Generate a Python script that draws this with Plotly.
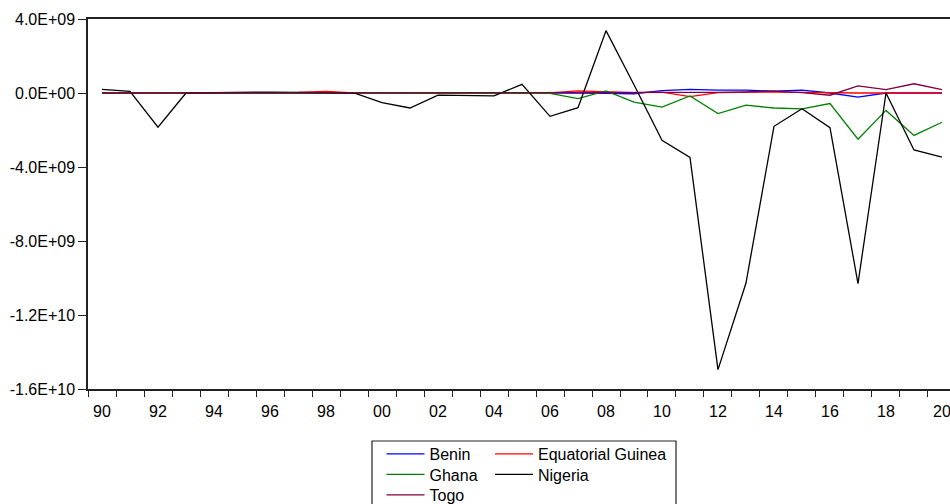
import plotly.graph_objects as go

years = list(range(1990, 2021))

benin = [0.00, 0.00, 0.00, 0.01, 0.02, 0.03, 0.03, 0.03, 0.02, 0.01,
         0.00, 0.00, 0.00, 0.00, 0.00, 0.00, 0.00, 0.00, -0.02, -0.04,
         0.13, 0.20, 0.15, 0.15, 0.10, 0.16, 0.00, -0.22, 0.00, 0.00, 0.00]
eq_guinea = [0.00, 0.00, 0.00, 0.00, 0.01, 0.01, 0.02, 0.03, 0.09, 0.01,
             0.00, 0.00, 0.00, 0.00, 0.00, 0.00, 0.00, 0.11, 0.05, 0.02,
             0.05, -0.20, 0.02, 0.05, 0.05, 0.03, 0.00, 0.00, 0.00, 0.00, 0.00]
ghana = [0.00, 0.00, 0.00, 0.00, 0.01, 0.01, 0.01, 0.01, 0.00, 0.00,
         0.00, 0.00, 0.00, 0.00, 0.00, 0.00, -0.02, -0.30, 0.11, -0.49,
         -0.76, -0.16, -1.11, -0.66, -0.81, -0.86, -0.57, -2.50, -0.94, -2.29, -1.58]
nigeria = [0.20, 0.09, -1.85, 0.00, 0.02, 0.04, 0.05, 0.03, 0.00, 0.00,
           -0.52, -0.81, -0.12, -0.16, -0.16, 0.47, -1.26, -0.79, 3.37, 0.45,
           -2.56, -3.48, -14.95, -10.27, -1.80, -0.85, -1.87, -10.30, 0.00, -3.08, -3.46]
togo = [0.00, 0.00, 0.00, 0.00, 0.00, 0.00, 0.00, 0.00, 0.00, 0.00,
        0.00, 0.00, 0.00, 0.00, 0.00, 0.00, 0.00, 0.00, 0.00, 0.00,
        0.00, 0.02, 0.03, 0.06, 0.10, 0.02, -0.12, 0.38, 0.18, 0.50, 0.18]

series_names = ["Benin", "Equatorial Guinea", "Ghana", "Nigeria", "Togo"]
series_values = [benin, eq_guinea, ghana, nigeria, togo]
series_colors = ["#0000FF", "#FF0000", "#008000", "#000000", "#800040"]

x_tickvals = list(range(1990, 2021, 2))
x_ticktext = ["90", "92", "94", "96", "98", "00", "02", "04", "06", "08",
              "10", "12", "14", "16", "18", "20"]
y_tickvals = [-1.6e10, -1.2e10, -8e9, -4e9, 0, 4e9]
y_ticktext = ["-1.6E+10", "-1.2E+10", "-8.0E+09", "-4.0E+09", "0.0E+00", "4.0E+09"]

FONT = "Liberation Sans, Arial, sans-serif"
W, H = 950, 504

# legend slot (left px, row-center px) for each series: 2 columns, row-major
legend_slots = [(381.5, 454), (490, 454), (381.5, 474.5), (490, 474.5), (381.5, 495)]
legend_ids = ["legend", "legend2", "legend3", "legend4", "legend5"]

fig = go.Figure()
for name, vals, col, lg in zip(series_names, series_values, series_colors, legend_ids):
    fig.add_trace(go.Scatter(
        x=years, y=[v * 1e9 for v in vals], mode="lines", name=name,
        line=dict(color=col, width=1.3), legend=lg, showlegend=True,
    ))

axis_col = "#222222"
layout_legends = {}
for lg, (lx, cy) in zip(legend_ids, legend_slots):
    layout_legends[lg] = dict(
        xref="container", yref="container", x=lx / W, y=1 - (cy - 17) / H,
        xanchor="left", yanchor="top", borderwidth=0, bgcolor="rgba(0,0,0,0)",
        font=dict(size=16), tracegroupgap=0, itemwidth=38,
    )

fig.update_layout(
    width=W, height=H, showlegend=True,
    margin=dict(l=88, r=0, t=19, b=115, autoexpand=False),
    paper_bgcolor="white", plot_bgcolor="white",
    font=dict(family=FONT, size=16, color="black"),
    xaxis=dict(
        range=[1989.5, 2020.286], tickvals=x_tickvals, ticktext=x_ticktext,
        ticks="", showgrid=False, zeroline=False, automargin=False,
        showline=True, linecolor=axis_col, linewidth=1.5, mirror=True,
        ticklabelstandoff=7, ticklabeloverflow="allow",
        minor=dict(ticks="outside", ticklen=6, tick0=1989.5, dtick=1,
                   tickcolor=axis_col, tickwidth=1.2, showgrid=False),
    ),
    yaxis=dict(
        range=[-1.6e10, 4e9], tickvals=y_tickvals, ticktext=y_ticktext,
        ticks="outside", ticklen=8, tickcolor=axis_col, tickwidth=1.2,
        showgrid=False, zeroline=False, automargin=False,
        showline=True, linecolor=axis_col, linewidth=1.5, mirror=False,
    ),
    shapes=[dict(type="rect", xref="paper", yref="paper",
                 x0=(372 - 88) / 862, x1=(676 - 88) / 862,
                 y0=(389 - 441) / 370, y1=(389 - 530) / 370,
                 line=dict(color=axis_col, width=1.2), fillcolor="rgba(0,0,0,0)")],
    **layout_legends,
)

fig.write_html("out.html")
